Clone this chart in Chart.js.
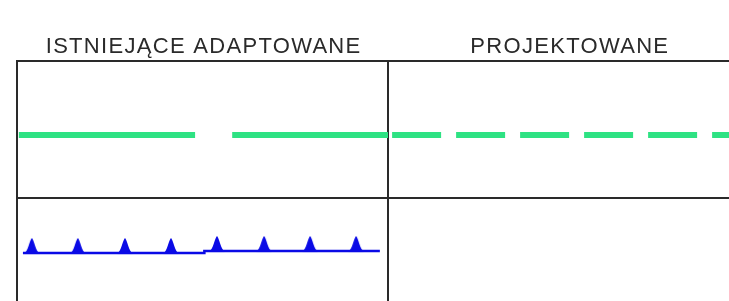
<!DOCTYPE html>
<html>
<head>
<meta charset="utf-8">
<script src="https://cdn.jsdelivr.net/npm/chart.js@4"></script>
<style>
  html, body { margin: 0; padding: 0; background: #ffffff; }
  #wrap { width: 729px; height: 301px; }
</style>
</head>
<body>
<div id="wrap"><canvas id="c" width="729" height="301"></canvas></div>
<script>
// ---- data (column units on x, row units on y) ----
const columnLabels = ['ISTNIEJĄCE ADAPTOWANE', 'PROJEKTOWANE'];
const columnCenters = [0.503, 1.49];
const columnDividers = [0, 1];
const rowDividers = [0, 1];
const xMax = 1.919;
const yMax = 1.75;

// green line, existing (two long segments with a gap)
const greenExistingX = [0.005, 0.48, null, 0.58, 1.0];
const greenY = 0.54;
// green line, projected (dashed)
const greenProjectedX = [1.011, 1.919];

// blue line with triangles (existing)
const blueLineX = [0.016, 0.505, 0.505, 0.978];
const blueLineY = [1.4004, 1.4004, 1.3858, 1.3858];
const triangleX = [0.040, 0.164, 0.291, 0.415, 0.539, 0.666, 0.790, 0.914];
const triangleY = [1.4004, 1.4004, 1.4004, 1.4004, 1.3858, 1.3858, 1.3858, 1.3858];

// ---- styles ----
const GREEN = '#2ee283';
const BLUE = '#0a0ae6';
const INK = '#2a2a2a';

function makeTriangle() {
  const c = document.createElement('canvas');
  c.width = 18; c.height = 34;
  const g = c.getContext('2d');
  g.fillStyle = BLUE;
  g.beginPath();
  g.moveTo(1, 17.5);
  g.bezierCurveTo(5, 16.5, 7, 3, 9, 2);
  g.bezierCurveTo(11, 3, 13, 16.5, 17, 17.5);
  g.closePath();
  g.fill();
  return c;
}
const triStyle = makeTriangle();

const greenExisting = greenExistingX.map(x => x === null ? {x: 0.53, y: null} : {x, y: greenY});
const greenProjected = greenProjectedX.map(x => ({x, y: greenY}));
const blueLine = blueLineX.map((x, i) => ({x, y: blueLineY[i]}));
const triangles = triangleX.map((x, i) => ({x, y: triangleY[i]}));

const spacingPlugin = {
  id: 'letterSpacing',
  beforeDraw(chart) { chart.ctx.letterSpacing = '1.3px'; }
};

new Chart(document.getElementById('c'), {
  type: 'scatter',
  data: {
    datasets: [
      { data: greenExisting, showLine: true, spanGaps: false, borderColor: GREEN, borderWidth: 6,
        pointRadius: 0, borderCapStyle: 'butt' },
      { data: greenProjected, showLine: true, borderColor: GREEN, borderWidth: 6,
        pointRadius: 0, borderDash: [49, 15], borderCapStyle: 'butt' },
      { data: blueLine, showLine: true, borderColor: BLUE, borderWidth: 2.5, pointRadius: 0 },
      { data: triangles, showLine: false, pointStyle: triStyle, pointRadius: 5 }
    ]
  },
  options: {
    responsive: false,
    animation: false,
    devicePixelRatio: 1,
    layout: { padding: 0, autoPadding: false },
    plugins: { legend: { display: false }, tooltip: { enabled: false } },
    scales: {
      x: {
        type: 'linear', position: 'top', min: 0, max: xMax,
        afterBuildTicks(scale) {
          scale.ticks = [...columnDividers, ...columnCenters].sort((a, b) => a - b).map(v => ({value: v}));
        },
        afterFit(scale) { scale.height = 61; scale.paddingLeft = 0; scale.paddingRight = 0; },
        ticks: {
          autoSkip: false, maxRotation: 0, padding: 1, color: INK,
          font: { family: 'Liberation Sans', size: 22 },
          callback(v) { const i = columnCenters.indexOf(v); return i >= 0 ? columnLabels[i] : ''; }
        },
        grid: {
          drawTicks: false, lineWidth: 2,
          color(ctx) { return (ctx.tick && ctx.tick.value === columnDividers[1]) ? INK : 'rgba(0,0,0,0)'; }
        },
        border: { display: true, color: INK, width: 2 }
      },
      y: {
        type: 'linear', position: 'left', min: 0, max: yMax, reverse: true,
        afterBuildTicks(scale) { scale.ticks = rowDividers.map(v => ({value: v})); },
        afterFit(scale) { scale.width = 17; },
        ticks: { display: false },
        grid: {
          drawTicks: false, lineWidth: 2,
          color(ctx) { return (ctx.tick && ctx.tick.value === rowDividers[1]) ? INK : 'rgba(0,0,0,0)'; }
        },
        border: { display: true, color: INK, width: 2 }
      }
    }
  },
  plugins: [spacingPlugin]
});
</script>
</body>
</html>
